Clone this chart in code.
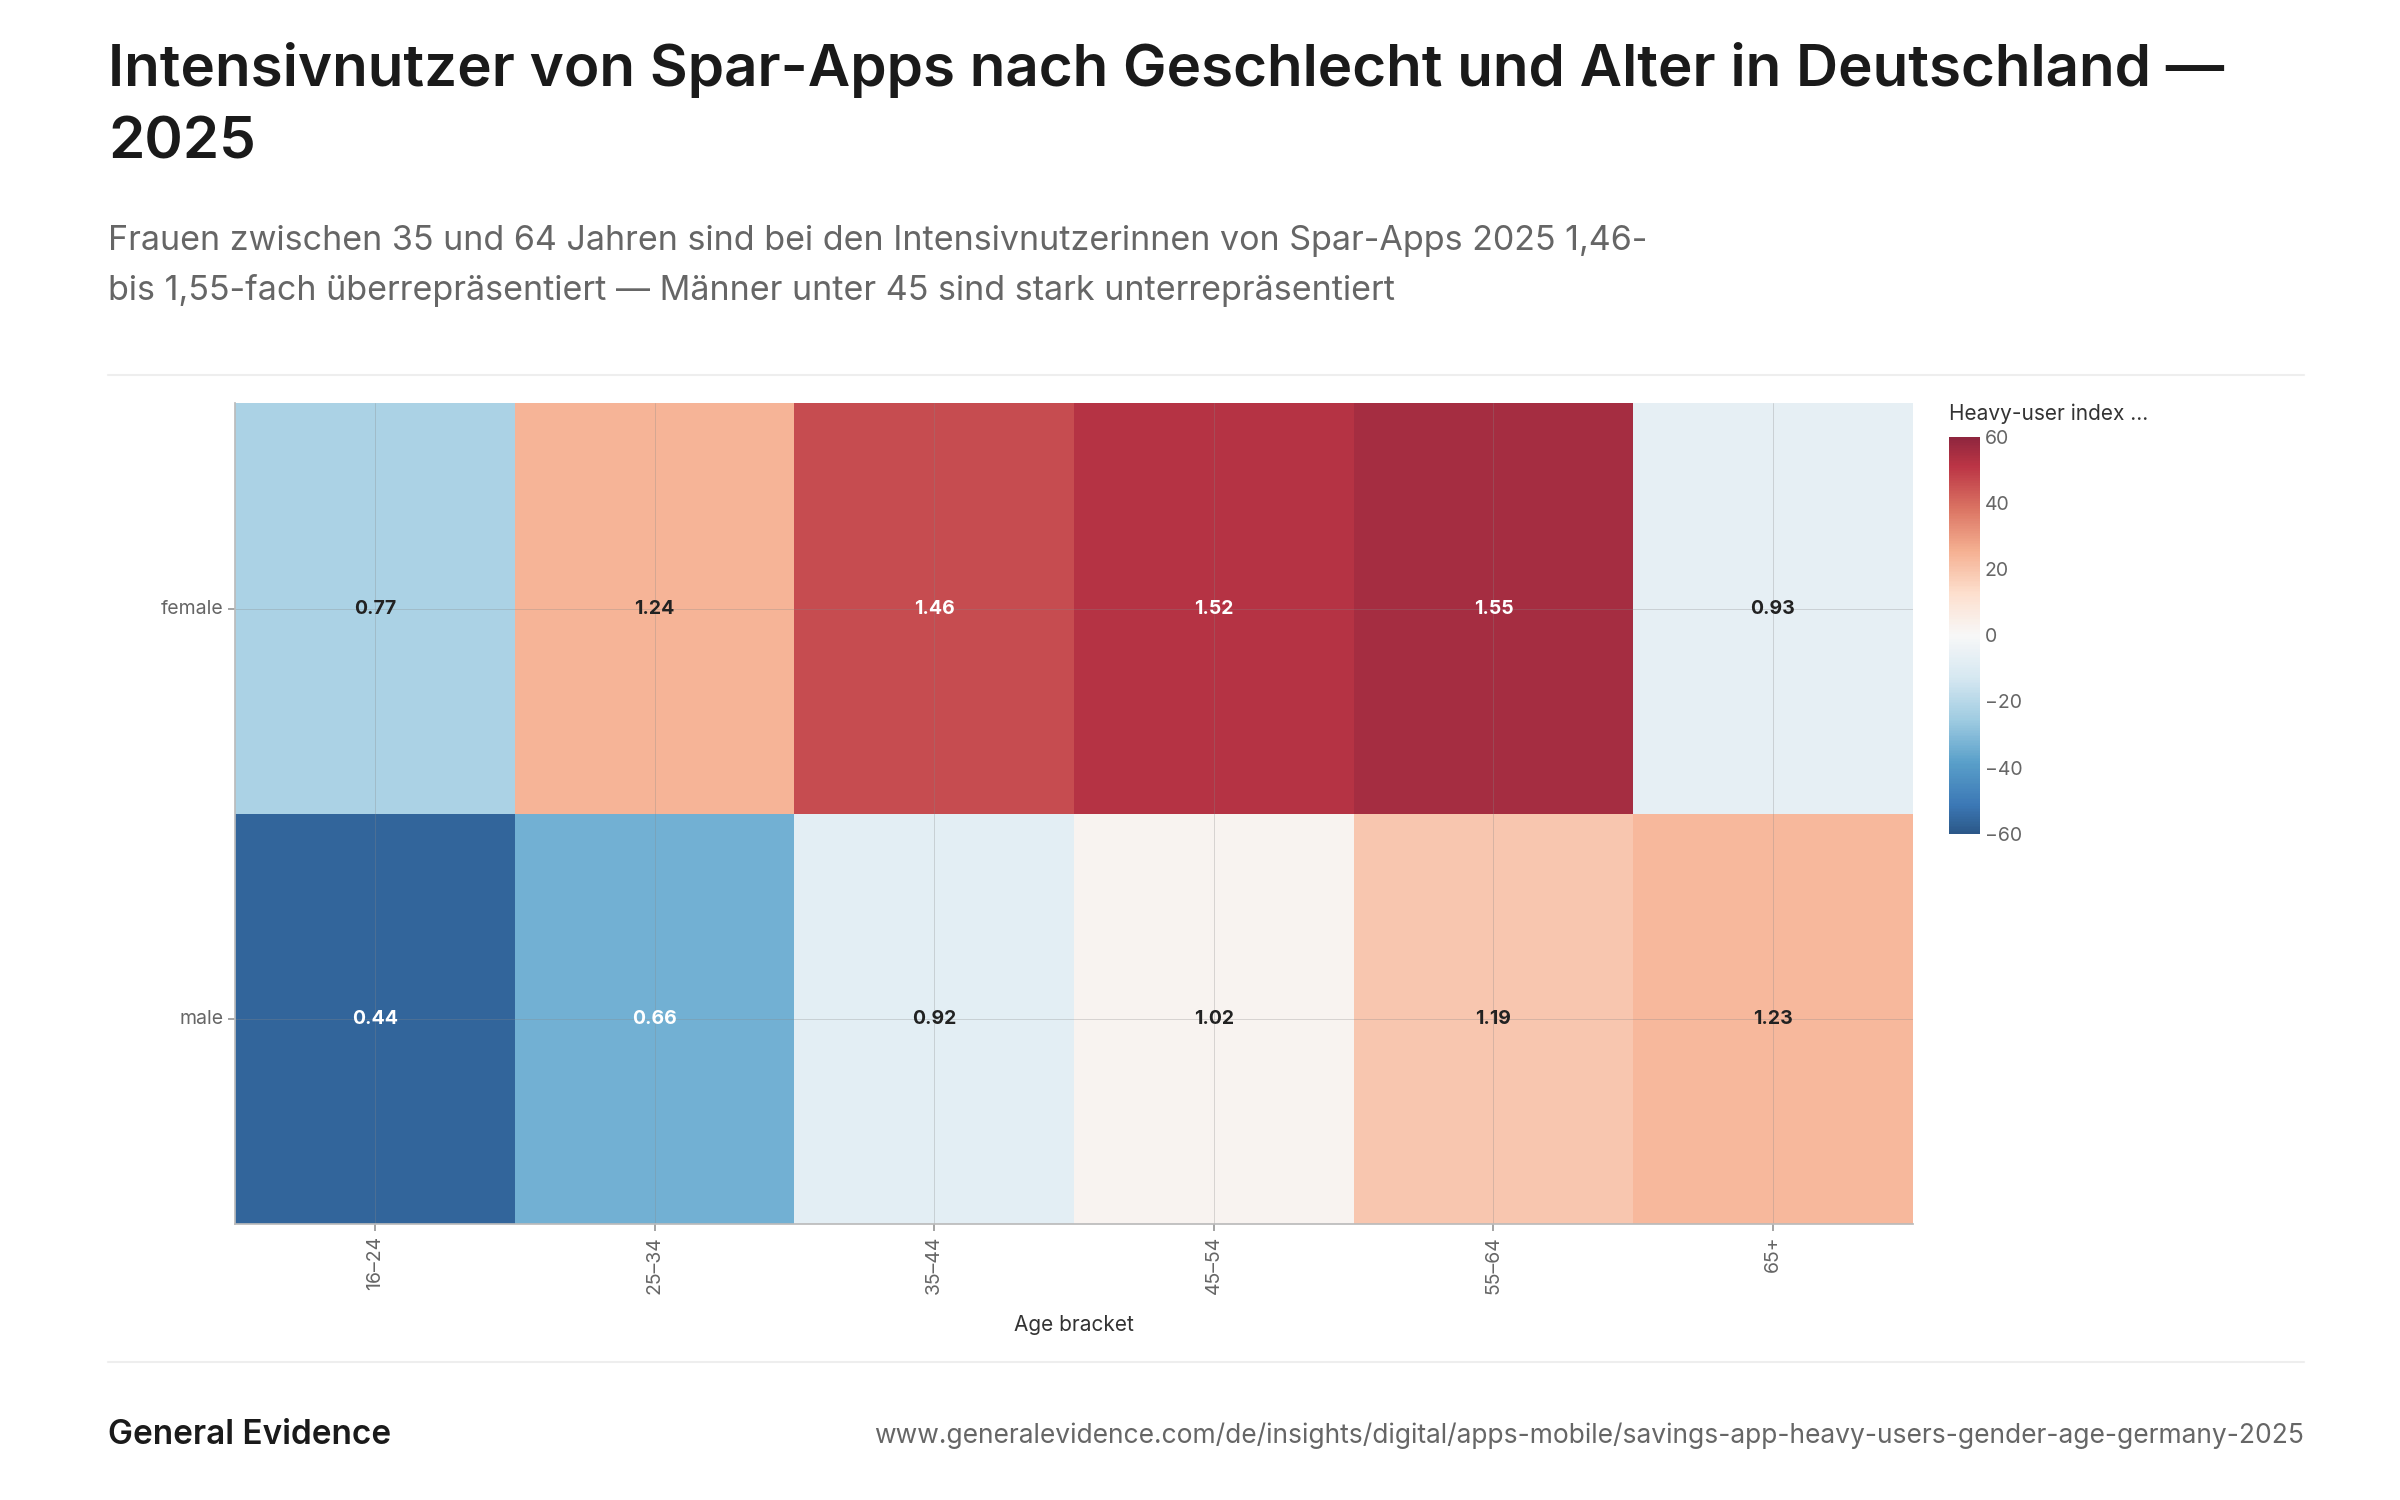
import numpy as np, pandas as pd, seaborn as sns, matplotlib
matplotlib.use("Agg")
import matplotlib.pyplot as plt
from matplotlib.lines import Line2D

ages = ["16–24", "25–34", "35–44", "45–54", "55–64", "65+"]
genders = ["female", "male"]
female = [0.77, 1.24, 1.46, 1.52, 1.55, 0.93]
male = [0.44, 0.66, 0.92, 1.02, 1.19, 1.23]

sns.set_theme(style="white")
plt.rcParams['font.family'] = ['Inter', 'DejaVu Sans']

vals = pd.DataFrame([female, male], index=genders, columns=ages)
color_vals = (vals - 1) * 100

fig = plt.figure(figsize=(24, 15), dpi=100)
ax = fig.add_axes([0.098, 0.184, 0.699, 0.547])
cax = fig.add_axes([0.812, 0.444, 0.013, 0.265])
sns.heatmap(color_vals, ax=ax, cbar_ax=cax, cmap="RdBu_r", vmin=-64, vmax=64,
            annot=vals.values, fmt=".2f", alpha=0.88,
            annot_kws={"fontsize": 14, "fontweight": "bold"})
cax.set_ylim(-60, 60)
for t, v in zip(ax.texts, vals.values.flatten()):
    t.set_color("white" if abs(v - 1) > 0.3 else "#222222")
for i in range(len(ages)):
    ax.axvline(i + 0.5, color="#888888", lw=0.6, alpha=0.35)
for j in range(len(genders)):
    ax.axhline(j + 0.5, color="#888888", lw=0.6, alpha=0.35)
ax.set_xticklabels(ages, rotation=90, fontsize=14, color="#666666")
ax.set_yticklabels(genders, rotation=0, fontsize=14, color="#666666")
ax.tick_params(axis="both", length=5, color="#999999", bottom=True, left=True)
ax.set_xlabel("Age bracket", fontsize=15, color="#333333", labelpad=15)
ax.set_ylabel("")
for s in ["left", "bottom"]:
    ax.spines[s].set_visible(True); ax.spines[s].set_color("#bbbbbb")
cax.tick_params(labelsize=14, colors="#666666", length=0)
cax.set_yticks([-60, -40, -20, 0, 20, 40, 60])
cax.set_yticklabels(["−60", "−40", "−20", "0", "20", "40", "60"])
fig.text(0.812, 0.72, "Heavy-user index ...", fontsize=15, color="#333333")

fig.text(0.045, 0.972, "Intensivnutzer von Spar-Apps nach Geschlecht und Alter in Deutschland —\n2025",
         fontsize=42, fontweight="semibold", color="#1a1a1a", va="top", linespacing=1.45)
fig.text(0.045, 0.85, "Frauen zwischen 35 und 64 Jahren sind bei den Intensivnutzerinnen von Spar-Apps 2025 1,46-\nbis 1,55-fach überrepräsentiert — Männer unter 45 sind stark unterrepräsentiert",
         fontsize=24.5, color="#666666", va="top", linespacing=1.65)
for y in [0.75, 0.092]:
    fig.add_artist(Line2D([0.045, 0.96], [y, y], color="#eeeeee", lw=1.5))
fig.text(0.045, 0.043, "General Evidence", fontsize=24, fontweight="semibold", color="#1a1a1a", va="center")
fig.text(0.96, 0.043, "www.generalevidence.com/de/insights/digital/apps-mobile/savings-app-heavy-users-gender-age-germany-2025",
         fontsize=19, color="#666666", va="center", ha="right")
fig.savefig("out.png")
